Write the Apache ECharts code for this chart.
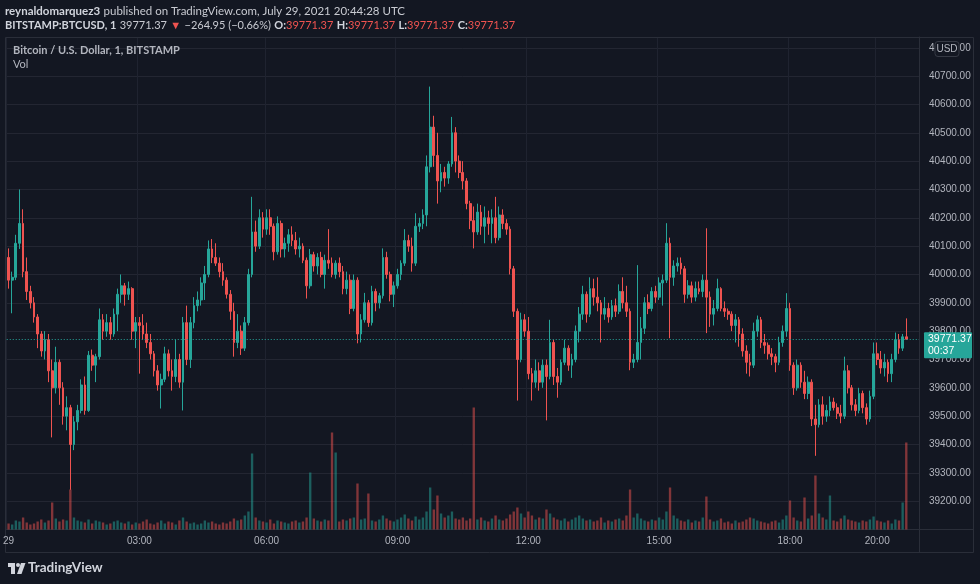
<!DOCTYPE html>
<html><head><meta charset="utf-8">
<script src="https://cdn.jsdelivr.net/npm/echarts/dist/echarts.min.js"></script>
<style>html,body{margin:0;padding:0;background:#131722;}#c{width:980px;height:584px;}</style>
</head><body><div id="c"></div>
<script>
// 5-minute bars, BITSTAMP:BTCUSD, July 29 2021
const opens=[
40060,39980,39990,40110,40180,40010,39940,39900,39850,39790,
39730,39770,39660,39600,39690,39600,39500,39530,39400,39480,
39520,39610,39520,39715,39680,39710,39840,39800,39830,39790,
39860,39930,39960,39930,39950,39800,39830,39820,39790,39760,
39720,39660,39610,39630,39720,39660,39640,39700,39620,39830,
39700,39830,39890,39910,39970,40000,40090,40060,40040,40010,
39980,39930,39870,39760,39800,39740,39830,40000,40150,40100,
40200,40160,40200,40170,40080,40180,40090,40110,40140,40120,
40090,40100,40050,39960,40070,40030,40060,40000,40050,40040,
40000,40040,40010,39950,39980,39880,39980,39790,39840,39900,
39830,39940,39900,39925,40060,40000,39930,39960,40000,40040,
40120,40100,40040,40170,40180,40210,40380,40520,40420,40330,
40360,40340,40390,40500,40400,40360,40330,40250,40190,40150,
40220,40170,40200,40180,40200,40130,40210,40180,40160,40020,
39870,39700,39840,39800,39650,39620,39660,39620,39680,39640,
39760,39640,39620,39690,39740,39680,39700,39800,39860,39930,
39860,39950,39920,39900,39860,39880,39850,39890,39870,39940,
39900,39870,39690,39700,39760,39810,39900,39880,39940,39920,
39970,39980,40110,39990,40030,40040,40020,39930,39960,39920,
39950,39940,39980,39920,39860,39880,39950,39880,39870,39860,
39820,39840,39790,39730,39690,39680,39800,39840,39760,39750,
39720,39710,39690,39760,39800,39880,39680,39600,39680,39620,
39580,39620,39490,39470,39540,39500,39520,39550,39530,39510,
39500,39660,39600,39540,39520,39580,39530,39490,39570,39720,
39700,39670,39690,39650,39700,39770,39740,39780];
const highs=[
40092,40010,40140,40300,40230,40060,39960,39920,39860,39800,
39800,39790,39700,39745,39700,39620,39570,39540,39500,39540,
39630,39640,39730,39735,39720,39880,39860,39860,39850,39880,
39950,40000,39970,39975,39955,39850,39850,39860,39830,39790,
39730,39680,39650,39745,39735,39700,39770,39720,39850,39890,
39850,39920,39940,39990,40030,40120,40125,40110,40060,40040,
39990,39945,39900,39860,39820,39850,40020,40274,40190,40230,
40220,40230,40230,40180,40205,40190,40130,40160,40170,40150,
40130,40110,40060,40090,40080,40075,40080,40070,40160,40060,
40050,40060,40030,40010,40000,40000,39990,39860,39935,39910,
39960,39950,39935,40092,40080,40010,39975,40020,40050,40160,
40140,40130,40216,40200,40230,40420,40663,40560,40500,40390,
40380,40400,40556,40520,40420,40400,40340,40260,40240,40250,
40245,40240,40225,40230,40274,40240,40230,40195,40170,40030,
39880,39865,39860,39850,39670,39700,39690,39700,39700,39840,
39770,39670,39700,39770,39750,39720,39820,39885,39960,39940,
39990,39985,39990,39910,39920,39900,39910,39915,39965,39990,
39960,39880,39720,40033,39850,39920,39930,39955,39960,39990,
40000,40181,40130,40050,40060,40060,40030,39980,39975,39975,
39975,40000,40163,39940,39910,39985,39955,39905,39880,39870,
39860,39850,39810,39750,39720,39830,39855,39850,39790,39760,
39740,39720,39780,39820,39934,39900,39690,39700,39690,39660,
39640,39630,39540,39560,39570,39540,39570,39565,39545,39540,
39710,39680,39610,39560,39600,39590,39545,39590,39760,39760,
39730,39720,39700,39720,39795,39790,39790,39845];
const lows=[
39950,39863,39980,40090,39990,39910,39880,39830,39740,39710,
39700,39620,39425,39580,39540,39470,39450,39240,39380,39450,
39510,39505,39515,39660,39620,39700,39770,39780,39770,39780,
39800,39900,39890,39910,39770,39740,39650,39770,39740,39700,
39640,39590,39527,39620,39640,39590,39620,39600,39520,39680,
39670,39810,39870,39890,39910,39990,40040,40030,39990,39960,
39915,39840,39710,39740,39716,39730,39820,39990,40080,40090,
40130,40140,40140,40050,40070,40060,40060,40080,40100,40070,
40060,40040,39915,39950,40010,40000,39990,39950,40020,39990,
39985,39990,39930,39930,39860,39870,39757,39760,39830,39815,
39820,39870,39880,39915,39985,39905,39885,39950,39980,40030,
40080,40010,40030,40150,40160,40170,40360,40380,40250,40290,
40310,40320,40380,40360,40340,40300,40230,40160,40092,40140,
40140,40110,40140,40110,40110,40120,40160,40140,40000,39850,
39555,39690,39780,39630,39555,39600,39590,39600,39485,39630,
39610,39565,39610,39680,39660,39635,39690,39760,39840,39830,
39850,39890,39870,39760,39840,39830,39840,39850,39860,39880,
39850,39662,39670,39690,39700,39790,39860,39870,39900,39910,
39890,39970,39775,39960,40010,40000,39900,39915,39900,39905,
39930,39920,39793,39815,39820,39870,39870,39850,39840,39800,
39760,39745,39710,39650,39640,39670,39780,39740,39720,39700,
39680,39655,39680,39745,39780,39660,39575,39590,39600,39560,
39560,39465,39360,39460,39470,39480,39500,39520,39490,39475,
39490,39580,39520,39500,39510,39510,39470,39480,39560,39680,
39650,39640,39620,39620,39690,39720,39730,39770];
const closes=[
39980,39990,40110,40180,40010,39940,39900,39850,39790,39730,
39770,39660,39600,39690,39600,39500,39530,39400,39480,39520,
39610,39520,39715,39680,39710,39840,39800,39830,39790,39860,
39930,39960,39930,39950,39800,39830,39820,39790,39760,39720,
39660,39610,39630,39720,39660,39640,39700,39620,39830,39700,
39830,39890,39910,39970,40000,40090,40060,40040,40010,39980,
39930,39870,39760,39800,39740,39830,40000,40150,40100,40200,
40160,40200,40170,40080,40180,40090,40110,40140,40120,40090,
40100,40050,39960,40070,40030,40060,40000,40050,40040,40000,
40040,40010,39950,39980,39880,39980,39790,39840,39900,39830,
39940,39900,39925,40060,40000,39930,39960,40000,40040,40120,
40100,40040,40170,40180,40210,40380,40520,40420,40330,40360,
40340,40390,40500,40400,40360,40330,40250,40190,40150,40220,
40170,40200,40180,40200,40130,40210,40180,40160,40020,39870,
39700,39840,39800,39650,39620,39660,39620,39680,39640,39760,
39640,39620,39690,39740,39680,39700,39800,39860,39930,39860,
39950,39920,39900,39860,39880,39850,39890,39870,39940,39900,
39870,39690,39700,39760,39810,39900,39880,39940,39920,39970,
39980,40110,39990,40030,40040,40020,39930,39960,39920,39950,
39940,39980,39920,39860,39880,39950,39880,39870,39860,39820,
39840,39790,39730,39690,39680,39800,39840,39760,39750,39720,
39710,39690,39760,39800,39880,39680,39600,39680,39620,39580,
39620,39490,39470,39540,39500,39520,39550,39530,39510,39500,
39660,39600,39540,39520,39580,39530,39490,39570,39720,39700,
39670,39690,39650,39700,39770,39740,39780,39771.37];
const volumes=[
6,5,9,8,12,7,5,6,8,10,
7,9,27,11,8,10,9,40,12,9,
8,7,10,6,9,8,7,5,6,8,
9,7,6,8,5,7,6,8,10,6,
5,7,9,6,8,7,5,9,12,8,
6,7,5,6,9,7,8,6,5,7,
6,8,11,9,10,14,18,76,12,9,
8,7,10,6,9,8,7,6,8,9,
7,8,12,57,11,9,8,10,9,97,
77,8,10,9,11,12,46,10,11,36,
9,8,10,14,11,9,8,10,12,15,
11,9,13,10,12,18,42,20,34,16,
12,14,18,11,10,12,9,11,122,10,
12,9,8,11,14,10,9,11,15,18,
22,16,12,18,14,10,12,11,20,16,
12,10,9,11,8,10,12,14,11,9,
10,8,9,12,7,9,8,10,11,9,
14,40,12,16,11,9,8,10,9,12,
10,18,42,14,11,9,8,10,7,9,
8,12,33,10,8,9,11,7,8,6,
9,7,8,10,12,11,9,8,7,6,
8,9,7,10,14,29,12,9,8,32,
11,14,54,16,12,10,34,9,8,11,
14,10,9,8,7,9,8,10,13,9,
8,7,9,6,10,9,27,87];
const tickTimes=['00:00','03:00','06:00','09:00','12:00','15:00','18:00','20:00'];
const tickLabels=['29','03:00','06:00','09:00','12:00','15:00','18:00','20:00'];
const missingSlots=['04:30'];           // no bar in that slot
const padSlots=['20:45','20:50','20:55']; // empty space at right edge
const lastPrice=39771.37, change='\u2212264.95', changePct='\u22120.66%', countdown='00:37';

const times=[];
for(let m=0;m<=1240;m+=5){
  const t=String(Math.floor(m/60)).padStart(2,'0')+':'+String(m%60).padStart(2,'0');
  if(!missingSlots.includes(t)) times.push(t);
}
const cats=times.concat(padSlots);
const UP='#26a69a', DN='#ef5350';
const candleData=opens.map((o,i)=>[o,closes[i],lows[i],highs[i]]);
const volData=volumes.map((v,i)=>({value:v,itemStyle:{color:closes[i]>=opens[i]?'rgba(38,166,154,0.5)':'rgba(239,83,80,0.5)'}}));

const AXF="'Liberation Sans',Arial,sans-serif";
const TXT='#b2b5be';
const chart=echarts.init(document.getElementById('c'),null,{renderer:'canvas',width:980,height:584});
const isTick=(i,v)=>tickTimes.includes(v);
chart.setOption({
  backgroundColor:'#131722',
  animation:false,
  grid:{left:5,right:61,top:37,bottom:54.5},
  xAxis:{type:'category',data:cats,boundaryGap:true,
    axisLine:{show:true,lineStyle:{color:'#2a2e39'}},axisTick:{show:false},
    axisLabel:{interval:isTick,formatter:v=>tickLabels[tickTimes.indexOf(v)]||'',color:TXT,fontSize:10,fontFamily:AXF,margin:7},
    splitLine:{show:true,interval:isTick,lineStyle:{color:'#1f2330'}}},
  yAxis:[{type:'value',position:'right',min:39100,max:40838,interval:100,
    axisLine:{show:true,lineStyle:{color:'#2a2e39'}},axisTick:{show:false},
    axisLabel:{formatter:v=>v.toFixed(2),color:TXT,fontSize:10,fontFamily:AXF,margin:10,showMinLabel:false,showMaxLabel:false},
    splitLine:{show:true,lineStyle:{color:'#232632'}}},
    {type:'value',min:0,max:492.5,show:false,splitLine:{show:false}}],
  series:[
    {type:'bar',yAxisIndex:1,data:volData,barWidth:'65%',z:1,silent:true},
    {type:'candlestick',data:candleData,barWidth:'62%',z:3,
      itemStyle:{color:UP,color0:DN,borderColor:UP,borderColor0:DN,borderWidth:1},
      markLine:{silent:true,symbol:'none',label:{show:false},
        lineStyle:{color:UP,type:[1,2],width:1},data:[{yAxis:lastPrice}]}}
  ]
});
const yP=chart.convertToPixel({yAxisIndex:0},lastPrice);
const HF="Lato,'Liberation Sans',sans-serif";
const red='#ef5350';
chart.setOption({graphic:{elements:[
  {type:'rect',shape:{x:5.5,y:37.5,width:968,height:515},style:{fill:null,stroke:'#2a2e39',lineWidth:1},silent:true,z:0},
  {type:'line',shape:{x1:919.5,y1:37,x2:919.5,y2:553},style:{stroke:'#2a2e39',lineWidth:1},silent:true},
  {type:'line',shape:{x1:5,y1:529.5,x2:974,y2:529.5},style:{stroke:'#2a2e39',lineWidth:1},silent:true},
  {type:'text',left:5,top:5,silent:true,style:{
    text:'{b|reynaldomarquez3} {n|published on TradingView.com, July 29, 2021 20:44:28 UTC}',
    rich:{b:{fontWeight:'bold',fill:'#d1d4dc',fontSize:11.5,fontFamily:HF},n:{fill:'#c8cad1',fontSize:11.5,fontFamily:HF}}}},
  {type:'text',left:5,top:19,silent:true,style:{
    text:'{b|BITSTAMP:BTCUSD, 1} {n|'+lastPrice.toFixed(2)+'} {r|\u25BC} {n|'+change+' ('+changePct+')} {b|O:}{r|'+lastPrice.toFixed(2)+'} {b|H:}{r|'+lastPrice.toFixed(2)+'} {b|L:}{r|'+lastPrice.toFixed(2)+'} {b|C:}{r|'+lastPrice.toFixed(2)+'}',
    rich:{b:{fontWeight:'bold',fill:'#d1d4dc',fontSize:11,fontFamily:HF},n:{fill:'#c8cad1',fontSize:11,fontFamily:HF},r:{fill:red,fontSize:11,fontFamily:HF}}}},
  {type:'text',left:13,top:45,silent:true,style:{text:'Bitcoin / U.S. Dollar, 1, BITSTAMP',fill:TXT,fontSize:11,fontWeight:'bold',fontFamily:HF}},
  {type:'text',left:13,top:59,silent:true,style:{text:'Vol',fill:TXT,fontSize:11,fontFamily:HF}},
  {type:'rect',shape:{x:935,y:41.5,width:24,height:15,r:3},style:{fill:'#131722',stroke:'#363a45',lineWidth:1},silent:true,z:50},
  {type:'text',x:947,y:49,silent:true,z:51,style:{text:'USD',fill:TXT,fontSize:10,fontFamily:AXF,align:'center',verticalAlign:'middle'}},
  {type:'rect',shape:{x:924,y:yP-7,width:48,height:26,r:1},style:{fill:UP},silent:true,z:50},
  {type:'text',x:928,y:yP,silent:true,z:51,style:{text:lastPrice.toFixed(2),fill:'#ffffff',fontSize:10.5,fontFamily:AXF,verticalAlign:'middle'}},
  {type:'text',x:928,y:yP+11.5,silent:true,z:51,style:{text:countdown,fill:'#ffffff',fontSize:10.5,fontFamily:AXF,verticalAlign:'middle'}},
  {type:'polygon',shape:{points:[[8,563],[15,563],[15,574],[11,574],[11,567],[8,567]]},style:{fill:'#d1d4dc'},silent:true},
  {type:'circle',shape:{cx:18,cy:565,r:2},style:{fill:'#d1d4dc'},silent:true},
  {type:'polygon',shape:{points:[[21,563],[25.5,563],[21.5,574],[17,574]]},style:{fill:'#d1d4dc'},silent:true},
  {type:'text',left:28,top:561,silent:true,style:{text:'TradingView',fill:'#d1d4dc',fontSize:13.5,fontWeight:'bold',fontFamily:HF}}
]}});
</script></body></html>
